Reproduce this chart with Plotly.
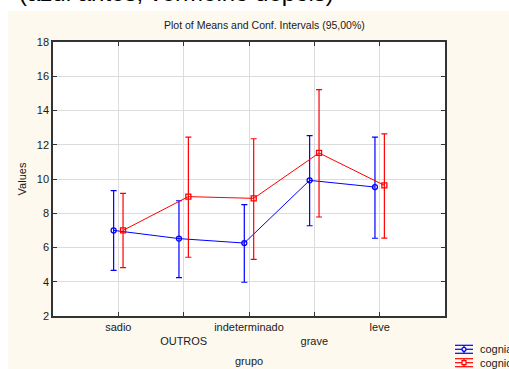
import plotly.graph_objects as go

categories = ["sadio", "OUTROS", "indeterminado", "grave", "leve"]
tick_labels = ["sadio", "<br>OUTROS", "indeterminado", "<br>grave", "leve"]
cat_pos = [1, 2, 3, 4, 5]

blue_name = "cogniantes"
blue_mean = [7.00, 6.52, 6.26, 9.92, 9.53]
blue_upper = [9.32, 8.73, 8.50, 12.53, 12.45]
blue_lower = [4.67, 4.24, 3.97, 7.27, 6.54]

red_name = "cognicdepois"
red_mean = [7.00, 8.97, 8.87, 11.52, 9.63]
red_upper = [9.16, 12.45, 12.35, 15.22, 12.63]
red_lower = [4.82, 5.43, 5.31, 7.78, 6.55]

W, H = 509, 369
L, R, T, B = 53, 445, 42, 316


def px(x):
    return (x - L) / (R - L)


def py(y):
    return (B - y) / (B - T)


CREAM = "#FDF9EE"
BLUE = "#0000FF"
RED = "#FF0000"
FONT = "Liberation Sans, Arial"
off = 0.072

fig = go.Figure()
fig.add_trace(go.Scatter(
    x=[c - off for c in cat_pos], y=blue_mean, mode="lines+markers", name=blue_name,
    line=dict(color=BLUE, width=1),
    marker=dict(symbol="circle-open", size=5, color=BLUE, line=dict(width=1.3)),
    error_y=dict(type="data", symmetric=False,
                 array=[u - m for u, m in zip(blue_upper, blue_mean)],
                 arrayminus=[m - l for m, l in zip(blue_mean, blue_lower)],
                 color=BLUE, thickness=1.2, width=3),
    showlegend=False,
))
fig.add_trace(go.Scatter(
    x=[c + off for c in cat_pos], y=red_mean, mode="lines+markers", name=red_name,
    line=dict(color=RED, width=1),
    marker=dict(symbol="square-open", size=5, color=RED, line=dict(width=1.3)),
    error_y=dict(type="data", symmetric=False,
                 array=[u - m for u, m in zip(red_upper, red_mean)],
                 arrayminus=[m - l for m, l in zip(red_mean, red_lower)],
                 color=RED, thickness=1.2, width=3),
    showlegend=False,
))

shapes = [
    # white strips outside the cream panel
    dict(type="rect", xref="paper", yref="paper", x0=px(-5), x1=px(W + 5), y0=py(11), y1=py(-5),
         fillcolor="white", line=dict(width=0), layer="below"),
    dict(type="rect", xref="paper", yref="paper", x0=px(-5), x1=px(8), y0=py(H + 5), y1=py(-5),
         fillcolor="white", line=dict(width=0), layer="below"),
]

annotations = [
    dict(text="(azul antes, vermelho depois)", xref="paper", yref="paper",
         x=px(17), y=py(8), xanchor="left", yanchor="bottom", showarrow=False,
         font=dict(family=FONT, size=24, color="black")),
    dict(text="Plot of Means and Conf. Intervals (95,00%)", xref="paper", yref="paper",
         x=px(264), y=py(25), xanchor="center", yanchor="middle", showarrow=False,
         font=dict(family=FONT, size=10.5, color="#1a1a1a")),
    dict(text="grupo", xref="paper", yref="paper",
         x=px(249), y=py(361), xanchor="center", yanchor="middle", showarrow=False,
         font=dict(family=FONT, size=11, color="#1a1a1a")),
]

# manual legend
for i, (name, color, sym) in enumerate([(blue_name, BLUE, "circle"), (red_name, RED, "square")]):
    cy = 349.3 + i * 13.4
    for dy in (-4, 0, 4):
        shapes.append(dict(type="line", xref="paper", yref="paper", x0=px(455), x1=px(473),
                           y0=py(cy + dy), y1=py(cy + dy), line=dict(color=color, width=1.2)))
    shapes.append(dict(type="line", xref="paper", yref="paper", x0=px(464), x1=px(464),
                       y0=py(cy - 4), y1=py(cy + 4), line=dict(color=color, width=1.2)))
    shapes.append(dict(type="circle" if sym == "circle" else "rect", xref="paper", yref="paper",
                       x0=px(462), x1=px(466), y0=py(cy - 2), y1=py(cy + 2),
                       line=dict(color=color, width=1.2), fillcolor=CREAM))
    annotations.append(dict(text=name, xref="paper", yref="paper", x=px(478), y=py(cy),
                            xanchor="left", yanchor="middle", showarrow=False,
                            font=dict(family=FONT, size=11, color="#1a1a1a")))

axis_common = dict(
    showline=True, linecolor="#333333", linewidth=1.5, mirror="ticks",
    ticks="inside", ticklen=4, tickcolor="#333333", tickwidth=1,
    showgrid=True, gridcolor="#DCDCDC", gridwidth=1, zeroline=False, automargin=False,
    tickfont=dict(family=FONT, size=11, color="#1a1a1a"),
)

fig.update_layout(
    width=W, height=H,
    margin=dict(l=L, r=W - R, t=T, b=H - B, pad=0),
    paper_bgcolor=CREAM, plot_bgcolor="white",
    shapes=shapes, annotations=annotations,
    xaxis=dict(range=[0, 6], tickmode="array", tickvals=cat_pos, ticktext=tick_labels,
               **axis_common),
    yaxis=dict(range=[2, 18], tickmode="array", tickvals=list(range(2, 19, 2)),
               title=dict(text="Values", standoff=8,
                          font=dict(family=FONT, size=11, color="#1a1a1a")),
               **axis_common),
    showlegend=False,
)

fig.write_html("out.html")
